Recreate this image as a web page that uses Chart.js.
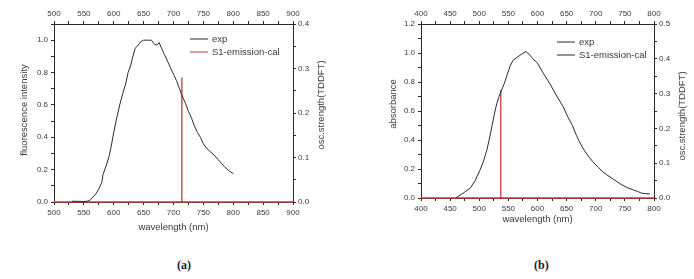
<!DOCTYPE html>
<html>
<head>
<meta charset="utf-8">
<script src="https://cdn.jsdelivr.net/npm/chart.js@4.4.0/dist/chart.umd.min.js"></script>
<style>
  html, body { margin: 0; padding: 0; background: #fff; }
  body { width: 694px; height: 279px; position: relative; overflow: hidden; }
  .panel { position: absolute; top: 0; width: 347px; height: 250px; }
  .caption { position: absolute; top: 258px; font: bold 12px "Liberation Serif", "DejaVu Serif", serif; color: #1a1a2a; }
</style>
</head>
<body>
<div class="panel" style="left:0"><canvas id="chartA"></canvas></div>
<div class="panel" style="left:347px"><canvas id="chartB"></canvas></div>
<div class="caption" style="left:177px">(a)</div>
<div class="caption" style="left:534px">(b)</div>
<script>
// panel (a): fluorescence
const expWavelengthA = [530, 540, 550, 556, 560, 565, 570, 575, 580, 582, 587, 592, 595, 597, 600, 605, 610, 615, 620, 624, 628, 632, 636, 641, 645, 650, 655, 660, 663, 667, 671, 674, 676, 680, 685, 690, 695, 700, 705, 710, 714, 720, 725, 730, 735, 740, 745, 750, 756, 762, 768, 774, 780, 786, 792, 800];
const expIntensityA = [0.005, 0.004, 0.003, 0.005, 0.01, 0.03, 0.05, 0.08, 0.12, 0.17, 0.22, 0.28, 0.33, 0.37, 0.43, 0.52, 0.60, 0.67, 0.73, 0.80, 0.84, 0.90, 0.95, 0.97, 0.99, 1.0, 1.0, 1.0, 1.0, 0.98, 0.97, 0.975, 0.985, 0.95, 0.91, 0.87, 0.83, 0.79, 0.75, 0.70, 0.66, 0.61, 0.56, 0.52, 0.47, 0.43, 0.40, 0.36, 0.33, 0.31, 0.29, 0.265, 0.24, 0.215, 0.195, 0.175];
const stickWavelengthA = [714];
const stickStrengthA = [0.28];

// panel (b): absorbance
const expWavelengthB = [460, 467, 475, 485, 493, 501, 507, 513, 518, 522, 526, 530, 534, 539, 543, 548, 553, 558, 565, 572, 580, 586, 592, 600, 610, 621, 632, 644, 652, 660, 667, 673, 680, 687, 695, 705, 712, 719, 730, 745, 755, 765, 772, 779, 786, 793];
const expAbsorbanceB = [0.0, 0.02, 0.04, 0.07, 0.12, 0.19, 0.25, 0.33, 0.42, 0.50, 0.58, 0.65, 0.70, 0.75, 0.79, 0.85, 0.91, 0.95, 0.97, 0.99, 1.01, 0.99, 0.96, 0.93, 0.86, 0.79, 0.71, 0.63, 0.56, 0.50, 0.43, 0.38, 0.33, 0.29, 0.25, 0.21, 0.18, 0.16, 0.13, 0.09, 0.07, 0.055, 0.045, 0.033, 0.03, 0.028];
const stickWavelengthB = [537];
const stickStrengthB = [0.31];

const legendLabels = ['exp', 'S1-emission-cal'];

const textColor = '#3a3a3a';
const lineColor = '#2a2a2a';
const redColor = '#c23b3b';
const tickFont = { family: 'Arial, "Liberation Sans", sans-serif', size: 8 };

// stick spectrum: baseline along y=0 with a spike at each transition
const stickPoints = (xs, ys, xmin, xmax) => {
    const pts = [{ x: xmin, y: 0 }];
    xs.forEach((x, i) => {
        pts.push({ x, y: 0 }, { x, y: ys[i] }, { x, y: 0 });
    });
    pts.push({ x: xmax, y: 0 });
    return pts;
};

const createPanel = (canvasId, o) => {
    const ctx = document.getElementById(canvasId).getContext('2d');

    const fix = (prop, v) => (scale) => { scale[prop] = v; };
    const axisBase = {
        border: { color: lineColor, width: 1 },
        grid: { drawOnChartArea: false, drawTicks: true, tickLength: 3, color: lineColor },
        ticks: { color: textColor, font: tickFont, maxRotation: 0, autoSkip: false }
    };
    const every = (step) => (v) => {
        const k = Math.round(v / step * 1000) / 1000;
        return Math.abs(k - Math.round(k)) < 1e-6 ? v.toFixed(step < 1 ? 1 : 0) : '';
    };

    const textPlugin = {
        id: 'panelText',
        afterDraw(chart) {
            const c = chart.ctx;
            const a = chart.chartArea;
            c.save();
            c.fillStyle = textColor;
            c.font = '9.5px Arial, "Liberation Sans", sans-serif';
            c.textAlign = 'center';
            c.textBaseline = 'middle';
            c.fillText('wavelength (nm)', (a.left + a.right) / 2, o.xTitleY);
            c.save();
            c.translate(o.yTitleX, o.yTitleMid);
            c.rotate(-Math.PI / 2);
            c.fillText(o.yTitle, 0, 0);
            c.restore();
            c.save();
            c.translate(o.y2TitleX, o.y2TitleMid);
            c.rotate(-Math.PI / 2);
            c.fillText('osc.strength(TDDFT)', 0, 0);
            c.restore();
            // legend
            c.textAlign = 'left';
            const colors = [lineColor, o.legendSecondColor];
            legendLabels.forEach((lab, i) => {
                const y = o.legendY + i * 13;
                c.strokeStyle = colors[i];
                c.lineWidth = 1;
                c.beginPath();
                c.moveTo(o.legendX, y);
                c.lineTo(o.legendX + 18, y);
                c.stroke();
                c.fillText(lab, o.legendX + 22, y);
            });
            c.restore();
        }
    };

    return new Chart(ctx, {
        type: 'line',
        data: {
            datasets: [{
                label: legendLabels[0],
                data: o.xs.map((x, i) => ({ x, y: o.ys[i] })),
                borderColor: lineColor,
                borderWidth: 1,
                pointRadius: 0,
                tension: 0,
                xAxisID: 'x',
                yAxisID: 'y'
            }, {
                label: legendLabels[1],
                data: stickPoints(o.sx, o.sy, o.xmin, o.xmax),
                borderColor: redColor,
                borderWidth: 1.3,
                pointRadius: 0,
                tension: 0,
                clip: false,
                xAxisID: 'x',
                yAxisID: 'y2'
            }]
        },
        options: {
            responsive: true,
            maintainAspectRatio: false,
            animation: false,
            layout: { padding: 0 },
            plugins: { legend: { display: false }, tooltip: { enabled: false } },
            scales: {
                x: {
                    ...axisBase, type: 'linear', position: 'bottom', min: o.xmin, max: o.xmax,
                    ticks: { ...axisBase.ticks, stepSize: 25, padding: 3, callback: every(50) },
                    afterFit: fix('height', o.bottomH)
                },
                x2: {
                    ...axisBase, type: 'linear', position: 'top', min: o.xmin, max: o.xmax,
                    ticks: { ...axisBase.ticks, stepSize: 25, padding: 2, callback: every(50) },
                    afterFit: fix('height', 24)
                },
                y: {
                    ...axisBase, type: 'linear', position: 'left', min: 0, max: o.ymax,
                    ticks: { ...axisBase.ticks, stepSize: 0.1, padding: 3, callback: every(0.2) },
                    afterFit: fix('width', o.leftW)
                },
                y2: {
                    ...axisBase, type: 'linear', position: 'right', min: 0, max: o.y2max,
                    ticks: { ...axisBase.ticks, stepSize: 0.05, padding: 2, callback: every(0.1) },
                    afterFit: fix('width', o.rightW)
                }
            }
        },
        plugins: [textPlugin]
    });
};

createPanel('chartA', {
    xs: expWavelengthA, ys: expIntensityA, sx: stickWavelengthA, sy: stickStrengthA,
    xmin: 500, xmax: 900, ymax: 1.1, y2max: 0.4,
    leftW: 54, rightW: 54, bottomH: 48,
    yTitle: 'fluorescence intensity', yTitleX: 24, yTitleMid: 110,
    y2TitleX: 321, y2TitleMid: 105, xTitleY: 227,
    legendX: 190, legendY: 39, legendSecondColor: redColor
});

createPanel('chartB', {
    xs: expWavelengthB, ys: expAbsorbanceB, sx: stickWavelengthB, sy: stickStrengthB,
    xmin: 400, xmax: 800, ymax: 1.2, y2max: 0.5,
    leftW: 74, rightW: 40, bottomH: 52,
    yTitle: 'absorbance', yTitleX: 46, yTitleMid: 104,
    y2TitleX: 335, y2TitleMid: 116, xTitleY: 219,
    legendX: 210, legendY: 42, legendSecondColor: lineColor
});
</script>
</body>
</html>
